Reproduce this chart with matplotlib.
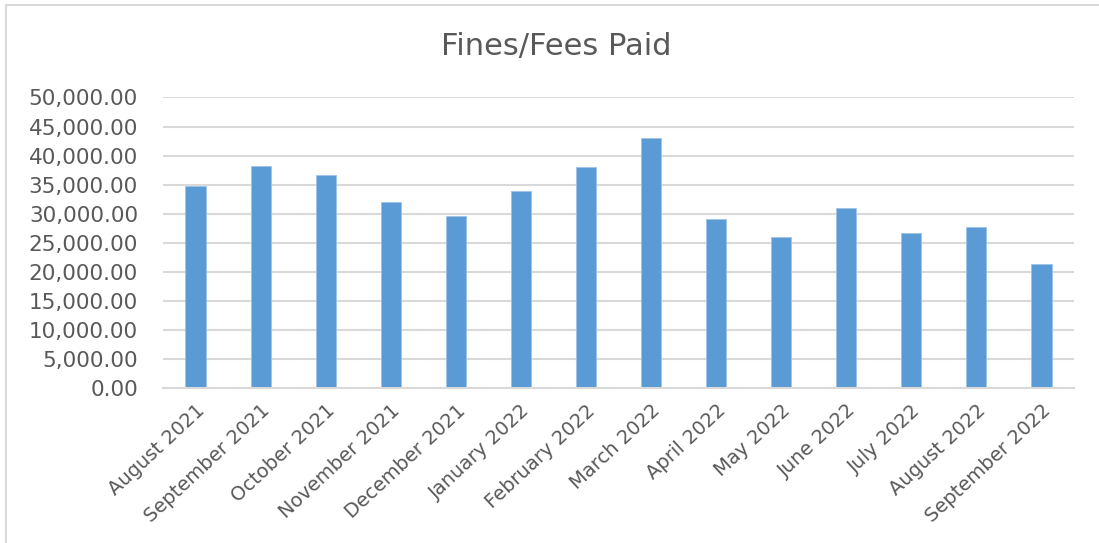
import matplotlib
matplotlib.use("Agg")
import matplotlib.pyplot as plt
from matplotlib.lines import Line2D
from matplotlib.ticker import FuncFormatter

# Datos
meses = ["August 2021", "September 2021", "October 2021", "November 2021",
         "December 2021", "January 2022", "February 2022", "March 2022",
         "April 2022", "May 2022", "June 2022", "July 2022",
         "August 2022", "September 2022"]
pagos = [34830, 38270, 36730, 32090, 29630, 33870, 38110, 43090,
         29050, 25960, 30950, 26700, 27680, 21320]

gris_texto = "#595959"
gris_linea = "#d9d9d9"
azul = "#5b9bd5"

fig = plt.figure(figsize=(10.99, 5.43), dpi=100)
fig.patch.set_facecolor("white")

# Borde del grafico (solo se ve arriba y a la izquierda)
fig.add_artist(Line2D([5.5 / 1099, 1.0], [1 - 4.5 / 543, 1 - 4.5 / 543],
                      transform=fig.transFigure, color=gris_linea, lw=1.5))
fig.add_artist(Line2D([5.5 / 1099, 5.5 / 1099], [0.0, 1 - 4.5 / 543],
                      transform=fig.transFigure, color=gris_linea, lw=1.5))

ax = fig.add_axes([163 / 1099, (543 - 388.3) / 543,
                   (1074 - 163) / 1099, (388.3 - 97.5) / 543])

x = range(len(meses))
ax.bar(x, pagos, width=0.31, color=azul, edgecolor="#9dc3e6", linewidth=0.6, zorder=3)

ax.set_xlim(-0.5, len(meses) - 0.5)
ax.set_ylim(0, 50000)
ax.set_yticks(range(0, 50001, 5000))
ax.yaxis.set_major_formatter(FuncFormatter(lambda v, p: f"{v:,.2f}"))

ax.grid(axis="y", color=gris_linea, linewidth=1.5, zorder=0)
for lado in ["top", "right", "left"]:
    ax.spines[lado].set_visible(False)
ax.spines["bottom"].set_color(gris_linea)
ax.spines["bottom"].set_linewidth(1.5)
ax.spines["bottom"].set_zorder(4)

ax.set_xticks(list(x))
ax.set_xticklabels(meses, rotation=43, ha="right", rotation_mode="anchor",
                   fontsize=14, color=gris_texto)
ax.tick_params(axis="x", length=0, pad=9)
ax.tick_params(axis="y", length=0, pad=18, labelsize=15.5, labelcolor=gris_texto)

fig.text(556 / 1099, 1 - 47 / 543, "Fines/Fees Paid", ha="center", va="center",
         fontsize=22, color=gris_texto)

fig.savefig("out.png", dpi=100, facecolor="white")
